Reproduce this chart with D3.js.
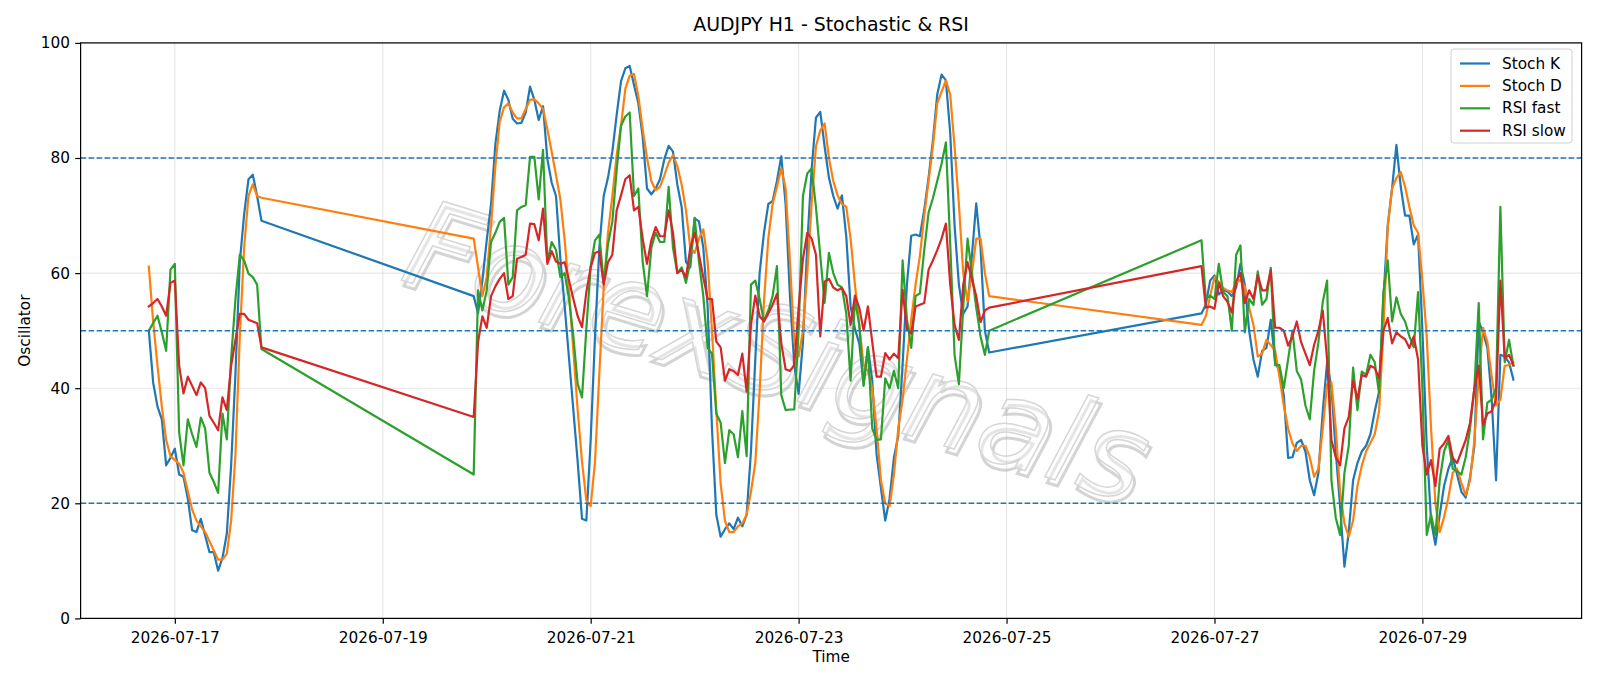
<!DOCTYPE html>
<html><head><meta charset="utf-8">
<script src="https://cdn.jsdelivr.net/npm/d3@7"></script>
<style>body{margin:0;background:#fff}svg{display:block;font-family:"DejaVu Sans",sans-serif}</style>
</head><body><svg id="c" width="1600" height="686"></svg>
<script>
// segment start times (hourly bars) and lengths
const segStarts = ["2026-07-16T18:00","2026-07-19T21:00","2026-07-26T21:00"];
const segLengths = [27,120,73];
const xTickLabels = ["2026-07-17","2026-07-19","2026-07-21","2026-07-23","2026-07-25","2026-07-27","2026-07-29"];
const yTicks = [0,20,40,60,80,100];
const levels = [20,50,80];
const seriesNames = ["Stoch K","Stoch D","RSI fast","RSI slow"];

const stochK = [
50,41,36.8,34.6,26.6,27.9,29.5,25,24.6,20.8,15.3,15,17.3,14.4,11.5,11.5,8.3,10.5,14.7,26.6,42.6,61.9,70.2,76.3,77.1,73.4,69.1,
56,53,58.7,65.7,72,82.4,88.2,91.7,90.1,86.8,86,86.1,87.9,92.4,90.1,86.6,89,79.8,75.7,73.4,
62.5,54.2,45.2,36.2,27.2,17.3,17,31,49,64.4,73.4,76.6,81.1,87.5,93.3,95.6,96,92.7,89.5,83.7,
74.7,73.7,74.7,76.3,79.8,82.1,81.1,75.4,71.5,61.9,61,69.5,69,64.4,54.2,33,18,14.2,15.5,16.5,
15.5,17.5,16,18,29,45,60,67,72,72.5,76,80.3,72,56,44,39,48,65,78,87,
88,82,76.6,73.4,71.2,73.5,66.4,54.2,50.3,47.8,40.7,47.1,41.3,28.5,22.7,17,20.8,27.9,31.7,44,
58,66.5,66.7,66.4,71,76.6,83,91,94.5,93.5,84.3,68.3,58,52.9,54.2,63,72.1,64.4,50,46.2,
53,54.5,58.7,59.6,56.3,57,56.8,56,57.5,61.6,58,50,45,42,46.5,47,51.9,44.5,43,38.8,
27.9,28,30.5,31,29,24,21.4,25.3,36,44.5,40,29,19.5,9,15,24,27,29,30,32,
36,39.4,55.5,68.3,74.7,82.3,75,70,70,65,66.7,50,30,17,12.8,18,23,26,28,25,
22,21,24.5,30,51.6,49.7,47,38,24,45.8,45.5,44.5,41.5];

const stochD = [
61.1,51.6,43.9,36.8,31,28.2,27.5,26.9,25.3,22.1,18.9,17,16,15,13.4,11.8,10.2,10.2,11.2,17,28.5,49,64.4,73.4,75.4,73.4,73.1,
66,61,56,59.3,68.3,78.6,86.3,88.8,89.5,87.9,86.9,86.9,88.5,90.1,90.2,89.5,88.5,85,81.1,77,
72.8,65.7,56.7,46.5,36.2,27.2,20.5,19.5,27.2,42.6,57.4,67,73.4,80.5,85.6,92,94.3,94.6,90.8,85,
80,76,74.4,75,77,79.2,80.5,78.6,75.4,70.9,64.4,63.5,66,67.6,62,50,36.2,23.4,17,15,
15,16,16.5,18,22,27,39.4,55,66,72,75,78.2,74.7,62,48,45.5,50,60,72,82,
84.8,86,80,76,73.5,72,71.5,66,58,51,44,43,40,33,24,20,19.5,25,33,38,
45,52,58,63,70,76,82,89.5,91.5,93.5,91,82,72,60,55,60,66,66,60,56,
51,52.5,56,59.3,58.5,57.4,57,56.7,58.3,58.8,57.7,54,51,45.5,46,48.4,47.5,46.5,42,37,
33,30.4,29.1,30,30,28,24.6,26,33,40.7,41,33,22,16.5,14.2,17,23,26.5,29,30.5,
32,36,50,68,74.7,76.5,77.6,75,71.5,68.3,67,58.7,49,33,20,15,17.6,21,25.3,26,
23.5,21.4,24,31,42,50.5,48,42,37,38,43.9,44,44.5];

const rsiFast = [
50,51.3,52.6,49.7,46.5,60.6,61.6,32.3,26.6,34.6,32,29.8,34.9,33,25.3,23.7,21.8,35.6,31.1,45.2,55.5,63.2,62.2,59.9,59.3,58,46.8,
25,57,53.5,57,65.4,67,68.9,69.6,58,59.3,70.9,71.5,71.8,80.2,80.2,72.8,81.4,61.9,65.4,64,
59.3,60,55.5,49,40.7,38.4,50.3,61.2,65.7,66.7,58.3,65,68.9,77.9,85.6,87.2,87.9,73.4,74.7,62,
56,64.4,67,65.4,65.4,75,64.4,60,61,58.3,62,69.6,62,56,47,46,35.6,34,27,32.7,
32,28,36,28.2,58,58.7,55.5,51.6,53.5,56,61.2,38.8,36.2,36.3,36.3,50,73.4,77.3,78.2,71.5,
63,54.8,63.5,60,58,57.5,53,41.3,55.5,51,40.4,47.1,33,31,31.1,41.7,40,43,40,62.2,
52,47,56,56.5,64,70.5,73,76,79,82.7,65,45.8,40.7,54,66,60,54,49,45.8,50,
65.7,55.5,56.1,55.5,61.6,56.7,56,50,63.2,64.8,49.7,55.5,54.5,60.3,54.5,55.5,60.9,44,44,40,
45,50,43,41.5,37,34.6,43,48,55,58.7,24,17.5,14.5,25.3,30,43.6,36.2,42.9,42.3,45.8,
44.5,39.1,56.7,62.2,51.6,55.8,52.9,51.6,49,47.1,56.7,40,14.5,18,14.5,24,29,31,26,25.6,
25,28,33,40,54.8,31.1,37.5,38,40,71.5,44.5,48.4,43.9];

const rsiSlow = [
54.2,54.8,55.5,54.2,52.6,58.3,58.7,43.9,39.1,42,40.4,38.8,41,40,35.2,34,32.7,38.4,36.2,43.9,48.4,52.9,52.9,51.9,51.6,51.3,47.1,
35,48,52.5,50.5,56,57.7,59,60,55.5,56,62.5,62.8,63.2,68.6,68.5,65.7,71.2,61.6,63.8,62,
61.6,61.9,58.7,55.5,52.5,50.6,56.7,61,63.5,63.8,58,61.9,63.2,70.9,73.5,76.3,77,70.9,71.5,66,
61.6,65.7,68,66.4,66.4,70.9,67,60,60.6,59.3,64.4,67,63.2,59.3,55.5,55.5,48.1,47.1,41.3,43.3,
43,42.3,46,39.4,51,56.1,52.5,51.6,53,54.5,56.4,47.8,43.3,43,44,54,62.5,67,66,63.2,
49,58.5,59,57.5,57,57.4,56,51,56.1,54,50,54.2,48,42,42,46.1,45,46,45.2,57.1,
50.3,49.5,54.2,54.5,54.8,60.6,62.2,64,66,68.6,58,51,48.4,58,61.9,59,56,51.5,53.5,54,
61.2,54,54.2,53.8,58.3,56,55,53.2,58.5,60,54.8,57,55.5,59.6,57,57,60.5,50.5,50.5,50,
47.4,49,51.6,48,46,44,47.5,50,53.5,45,31,28,26.6,33,35,41.3,38.1,42.3,42,43.9,
43.5,41.7,50,52.2,47.8,49.7,49,48.5,47,49,45,30,25,27.5,23,29.5,30.4,31.7,27.9,27,
29,31,34,40,43.9,33.6,35.6,36,38,58.7,45.2,45.8,44];

const colors = ["#1f77b4","#ff7f0e","#2ca02c","#d62728"];

// build hourly time axis from segments
const parse = d3.utcParse("%Y-%m-%dT%H:%M");
const times = [];
segStarts.forEach((s,i)=>{const t0=parse(s);for(let h=0;h<segLengths[i];h++)times.push(d3.utcHour.offset(t0,h));});

const svg = d3.select("#c");
const L=80.6,R=1581.6,T=42.9,B=618.4;
const tMin=times[0], tMax=times[times.length-1];
const span=tMax-tMin;
const x=d3.scaleUtc().domain([new Date(+tMin-0.05*span),new Date(+tMax+0.05*span)]).range([L,R]);
const y=d3.scaleLinear().domain([0,100]).range([B,T]);
const parseDay=d3.utcParse("%Y-%m-%d");
const xTicks=xTickLabels.map(parseDay);

// grid
const g=svg.append("g");
g.selectAll(".gx").data(xTicks).enter().append("line")
 .attr("x1",d=>x(d)).attr("x2",d=>x(d)).attr("y1",T).attr("y2",B)
 .attr("stroke","#b0b0b0").attr("stroke-opacity",0.3).attr("stroke-width",1.1);
g.selectAll(".gy").data(yTicks).enter().append("line")
 .attr("x1",L).attr("x2",R).attr("y1",d=>y(d)).attr("y2",d=>y(d))
 .attr("stroke","#b0b0b0").attr("stroke-opacity",0.3).attr("stroke-width",1.1);

// watermark (soft shadow + thin outline)
const wm=svg.append("g").attr("transform","translate(775,360) rotate(17)")
 .attr("font-family","DejaVu Sans").attr("font-style","italic").attr("font-size",120)
 .attr("text-anchor","middle").attr("dominant-baseline","middle");
wm.append("text").attr("x",4).attr("y",5).attr("fill","none").attr("stroke","#a0a0a0")
 .attr("stroke-opacity",0.45).attr("stroke-width",3).text("ForexSignals");
wm.append("text").attr("fill","#ffffff").attr("fill-opacity",0.4).attr("stroke","#d6d6d6")
 .attr("stroke-width",1.5).text("ForexSignals");

// series
const line=d3.line().x((d,i)=>x(times[i])).y(d=>y(d));
[stochK,stochD,rsiFast,rsiSlow].forEach((s,i)=>{
 svg.append("path").datum(s).attr("d",line).attr("fill","none")
  .attr("stroke",colors[i]).attr("stroke-width",2.2).attr("stroke-linejoin","round").attr("stroke-linecap","square");
});

// level lines
svg.selectAll(".lv").data(levels).enter().append("line")
 .attr("x1",L).attr("x2",R).attr("y1",d=>y(d)).attr("y2",d=>y(d))
 .attr("stroke","#1f77b4").attr("stroke-width",1.5).attr("stroke-dasharray","5.6,2.4");

// axes
const fs=15.3;
const xAxis=svg.append("g").attr("transform",`translate(0,${B})`)
 .call(d3.axisBottom(x).tickValues(xTicks).tickFormat(d3.utcFormat("%Y-%m-%d")).tickSize(5.4).tickSizeOuter(0));
const yAxis=svg.append("g").attr("transform",`translate(${L},0)`)
 .call(d3.axisLeft(y).tickValues(yTicks).tickSize(5.4).tickSizeOuter(0));
[xAxis,yAxis].forEach(a=>{a.select(".domain").remove();
 a.selectAll("text").attr("font-family","DejaVu Sans").attr("font-size",fs).attr("fill","#000");
 a.selectAll("line").attr("stroke","#000").attr("stroke-width",1.2);});
xAxis.selectAll("text").attr("dy","1.05em");
yAxis.selectAll("text").attr("dx","-0.15em");

svg.append("rect").attr("x",L).attr("y",T).attr("width",R-L).attr("height",B-T)
 .attr("fill","none").attr("stroke","#000").attr("stroke-width",1.2);

svg.append("text").attr("x",(L+R)/2).attr("y",31).attr("text-anchor","middle")
 .attr("font-size",18.9).text("AUDJPY H1 - Stochastic & RSI");
svg.append("text").attr("x",(L+R)/2).attr("y",662).attr("text-anchor","middle")
 .attr("font-size",fs).text("Time");
svg.append("text").attr("transform","translate(30,330.6) rotate(-90)").attr("text-anchor","middle")
 .attr("font-size",fs).text("Oscillator");

// legend
const lg=svg.append("g");
lg.append("rect").attr("x",1451).attr("y",49).attr("width",121).attr("height",94).attr("rx",3)
 .attr("fill","#fff").attr("fill-opacity",0.8).attr("stroke","#d0d0d0").attr("stroke-width",1);
seriesNames.forEach((n,i)=>{
 const yy=63.5+i*22.4;
 lg.append("line").attr("x1",1460).attr("x2",1490).attr("y1",yy).attr("y2",yy).attr("stroke",colors[i]).attr("stroke-width",2.2);
 lg.append("text").attr("x",1502).attr("y",yy).attr("dominant-baseline","central").attr("font-size",fs).text(n);
});
</script></body></html>
